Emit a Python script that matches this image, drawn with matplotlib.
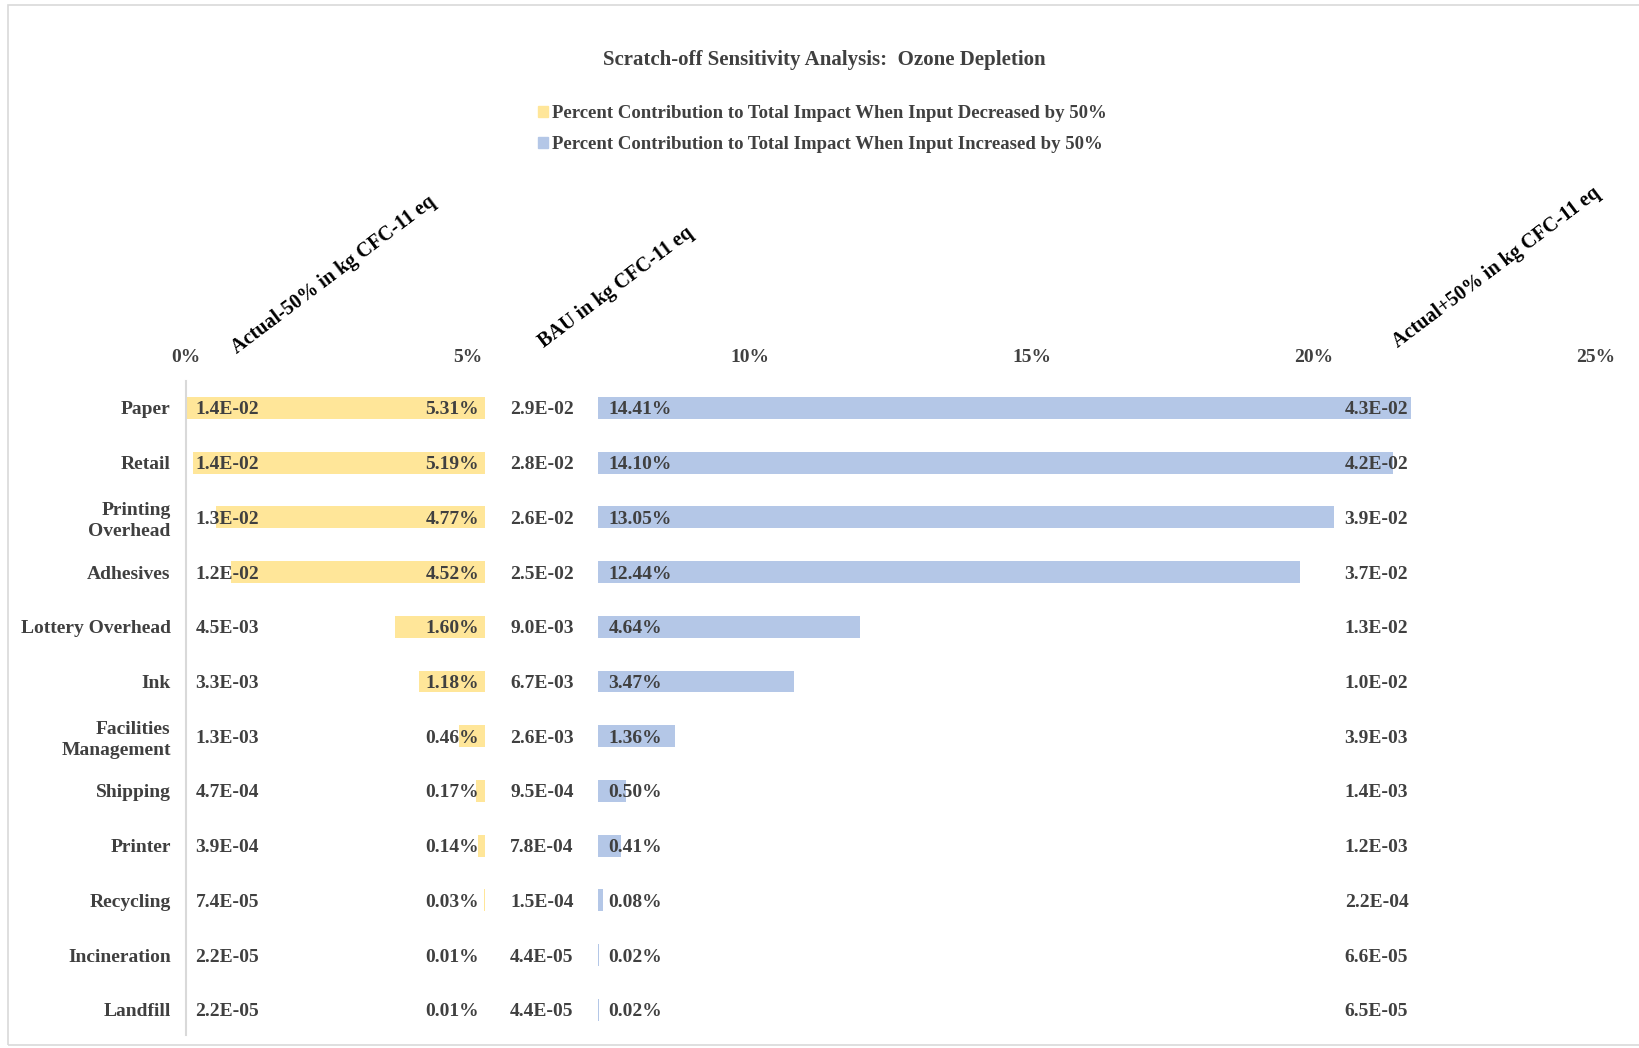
import matplotlib.pyplot as plt
import matplotlib.patches as mpatches

# data
categories = ["Paper", "Retail", "Printing\nOverhead", "Adhesives", "Lottery Overhead", "Ink",
              "Facilities\nManagement", "Shipping", "Printer", "Recycling", "Incineration", "Landfill"]
pct_decreased = [5.31, 5.19, 4.77, 4.52, 1.60, 1.18, 0.46, 0.17, 0.14, 0.03, 0.01, 0.01]
pct_increased = [14.41, 14.10, 13.05, 12.44, 4.64, 3.47, 1.36, 0.50, 0.41, 0.08, 0.02, 0.02]
actual_minus = ["1.4E-02", "1.4E-02", "1.3E-02", "1.2E-02", "4.5E-03", "3.3E-03",
                "1.3E-03", "4.7E-04", "3.9E-04", "7.4E-05", "2.2E-05", "2.2E-05"]
bau = ["2.9E-02", "2.8E-02", "2.6E-02", "2.5E-02", "9.0E-03", "6.7E-03",
       "2.6E-03", "9.5E-04", "7.8E-04", "1.5E-04", "4.4E-05", "4.4E-05"]
actual_plus = ["4.3E-02", "4.2E-02", "3.9E-02", "3.7E-02", "1.3E-02", "1.0E-02",
               "3.9E-03", "1.4E-03", "1.2E-03", "2.2E-04", "6.6E-05", "6.5E-05"]
xticks = [0, 5, 10, 15, 20, 25]

YELLOW = "#FFE699"
BLUE = "#B4C7E7"
TXT = "#404040"
plt.rcParams['font.family'] = ['Liberation Serif', 'DejaVu Serif']

fig = plt.figure(figsize=(16.39, 10.48), dpi=100)
ax = fig.add_axes([0.1135, 0.0124, 0.860, 0.624])

# frame around the chart area
fig.patches.append(mpatches.Rectangle((0.005, 0.003), 1.2, 0.992, transform=fig.transFigure,
                                      fill=False, edgecolor="#D9D9D9", lw=1.2))

y = list(range(len(categories)))
top = max(pct_decreased)
gap = 2.0
left_dec = [top - v for v in pct_decreased]
ax.barh(y, pct_decreased, left=left_dec, height=0.4, color=YELLOW)
ax.barh(y, pct_increased, left=top + gap, height=0.4, color=BLUE)

ax.set_xlim(0, 25)
ax.set_ylim(11.46, -0.49)
ax.xaxis.tick_top()
ax.set_xticks(xticks)
ax.set_xticklabels([f"{t}%" for t in xticks], fontsize=14, fontweight="bold", color=TXT)
ax.set_yticks(y)
ax.set_yticklabels(categories, fontsize=14, fontweight="bold", color=TXT, linespacing=1.3)
for t in ax.get_yticklabels():
    t.set_verticalalignment("center_baseline")
ax.tick_params(length=0)
ax.tick_params(axis="x", pad=11)
ax.tick_params(axis="y", pad=11)
for s in ["top", "right", "bottom"]:
    ax.spines[s].set_visible(False)
ax.spines["left"].set_color("#D9D9D9")
ax.spines["left"].set_linewidth(1.5)

lab = dict(fontsize=14, fontweight="bold", color=TXT, va="center_baseline")
for i in y:
    ax.text(0.17, i, actual_minus[i], ha="left", **lab)
    ax.text(5.2, i, f"{pct_decreased[i]:.2f}%", ha="right", **lab)
    ax.text(5.75, i, bau[i], ha="left", **lab)
    ax.text(7.49, i, f"{pct_increased[i]:.2f}%", ha="left", **lab)
    ax.text(20.55, i, actual_plus[i], ha="left", **lab)

# rotated column headers
trans = ax.get_xaxis_transform()
hdr = dict(fontsize=14.5, fontweight="bold", color="black", rotation=37,
           rotation_mode="anchor", ha="left", va="bottom", transform=trans)
ax.text(0.95, 1.035, "Actual-50% in kg CFC-11 eq", **hdr)
ax.text(6.4, 1.045, "BAU in kg CFC-11 eq", **hdr)
ax.text(21.55, 1.045, "Actual+50% in kg CFC-11 eq", **hdr)

fig.text(0.503, 0.943, "Scratch-off Sensitivity Analysis:  Ozone Depletion", ha="center",
         va="center", fontsize=15, fontweight="bold", color=TXT)

handles = [mpatches.Patch(color=YELLOW, label="Percent Contribution to Total Impact When Input Decreased by 50%"),
           mpatches.Patch(color=BLUE, label="Percent Contribution to Total Impact When Input Increased by 50%")]
leg = fig.legend(handles=handles, loc="upper left", bbox_to_anchor=(0.318, 0.916), frameon=False,
                 handlelength=0.55, handleheight=0.55, handletextpad=0.2, labelspacing=0.75,
                 prop={"size": 13.5, "weight": "bold"})
for t in leg.get_texts():
    t.set_color(TXT)

fig.savefig("out.png", dpi=100)
